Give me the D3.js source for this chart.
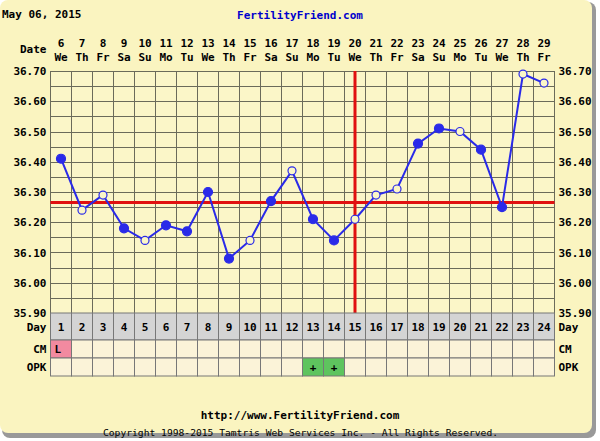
<!DOCTYPE html>
<html><head><meta charset="utf-8">
<script src="https://cdn.jsdelivr.net/npm/d3@7"></script>
<style>
body{margin:0;background:#fff;}
text{font-family:"DejaVu Sans Mono",monospace;font-weight:bold;font-size:11px;}
text.copy{font-weight:normal;font-size:8px;}
</style></head><body>
<svg id="c" width="600" height="441"></svg>
<script>
// chart data
var cycleDays = d3.range(1, 25);
var dates = [6,7,8,9,10,11,12,13,14,15,16,17,18,19,20,21,22,23,24,25,26,27,28,29];
var weekdays = ["We","Th","Fr","Sa","Su","Mo","Tu","We","Th","Fr","Sa","Su","Mo","Tu","We","Th","Fr","Sa","Su","Mo","Tu","We","Th","Fr"];
var temps = [36.41,36.24,36.29,36.18,36.14,36.19,36.17,36.30,36.08,36.14,36.27,36.37,36.21,36.14,36.21,36.29,36.31,36.46,36.51,36.50,36.44,36.25,36.69,36.66];
var openPoint = [0,1,1,0,1,0,0,0,0,1,0,1,0,0,1,1,1,0,0,1,0,0,1,1];
var cm = {1: "L"};
var opk = {13: "+", 14: "+"};
var coverline = 36.265;
var ovulationDay = 15;
var yTicks = [36.70,36.60,36.50,36.40,36.30,36.20,36.10,36.00,35.90];

var svg = d3.select("#c");
var L = 50.5, R = 554.5, T = 71, B = 313;

// background card
svg.append("rect").attr("x",2).attr("y",2).attr("width",594).attr("height",436).attr("rx",8)
  .attr("fill","#999");
svg.append("rect").attr("x",0).attr("y",0).attr("width",592).attr("height",433).attr("rx",8)
  .attr("fill","#faf4c0");

var x = d3.scaleBand().domain(cycleDays).range([L, R]);
var y = d3.scaleLinear().domain([35.90, 36.70]).range([B, T]);
var cx = function(d){ return x(d) + x.bandwidth()/2; };

svg.append("rect").attr("x",L).attr("y",T).attr("width",R-L).attr("height",B-T).attr("fill","#fbf6c8");

// grid
var g = svg.append("g").attr("stroke","#6b6b5a").attr("stroke-width",1);
d3.range(35.90, 36.701, 0.05).forEach(function(v){
  g.append("line").attr("x1",L).attr("x2",R).attr("y1",Math.round(y(v))+0.5).attr("y2",Math.round(y(v))+0.5);
});
cycleDays.concat([25]).forEach(function(d){
  var xx = d === 25 ? R : x(d);
  g.append("line").attr("x1",xx).attr("x2",xx).attr("y1",T).attr("y2",B);
});

// y labels
yTicks.forEach(function(v){
  svg.append("text").attr("x",L-4).attr("y",y(v)+4).attr("text-anchor","end").attr("font-size",12).text(v.toFixed(2));
  svg.append("text").attr("x",R+4).attr("y",y(v)+4).attr("font-size",12).text(v.toFixed(2));
});

// header
svg.append("text").attr("x",2).attr("y",18).attr("font-size",12).text("May 06, 2015");
svg.append("text").attr("x",300).attr("y",19).attr("text-anchor","middle").attr("fill","#0000cc").attr("font-size",12).text("FertilityFriend.com");
svg.append("text").attr("x",L-4).attr("y",53).attr("text-anchor","end").attr("font-size",12).text("Date");
cycleDays.forEach(function(d,i){
  svg.append("text").attr("x",cx(d)).attr("y",47).attr("text-anchor","middle").attr("font-size",12).text(dates[i]);
  svg.append("text").attr("x",cx(d)).attr("y",61).attr("text-anchor","middle").text(weekdays[i]);
});

// coverline and ovulation
svg.append("line").attr("x1",L).attr("x2",R).attr("y1",y(coverline)).attr("y2",y(coverline)).attr("stroke","#e01010").attr("stroke-width",3);
svg.append("line").attr("x1",cx(ovulationDay)).attr("x2",cx(ovulationDay)).attr("y1",T).attr("y2",B).attr("stroke","#e01010").attr("stroke-width",3);

// temperature line
svg.append("path").datum(temps)
  .attr("d", d3.line().x(function(d,i){ return cx(cycleDays[i]); }).y(function(d){ return y(d); }))
  .attr("fill","none").attr("stroke","#2a2ae8").attr("stroke-width",2);
svg.selectAll(".pt").data(temps).join("circle")
  .attr("cx",function(d,i){ return cx(cycleDays[i]); }).attr("cy",function(d){ return y(d); })
  .attr("r",function(d,i){ return openPoint[i] ? 4 : 4.5; })
  .attr("fill",function(d,i){ return openPoint[i] ? "#fbf6c8" : "#2a2ae8"; })
  .attr("stroke","#2a2ae8").attr("stroke-width",1.2);

// bottom table
var rows = [{label:"Day",y0:313,h:27},{label:"CM",y0:340,h:18},{label:"OPK",y0:358,h:18}];
rows.forEach(function(r){
  svg.append("text").attr("x",L-4).attr("y",r.y0+r.h/2+4).attr("text-anchor","end").attr("font-size",12).text(r.label);
  svg.append("text").attr("x",R+4).attr("y",r.y0+r.h/2+4).attr("font-size",12).text(r.label);
  cycleDays.forEach(function(d){
    var fill = r.label==="Day" ? "#d4d4d4" : "#fbf3d8";
    var txt = r.label==="Day" ? d : (r.label==="CM" ? cm[d] : opk[d]);
    if (r.label==="CM" && cm[d]) fill = "#f28aa0";
    if (r.label==="OPK" && opk[d]) fill = "#5ec45e";
    svg.append("rect").attr("x",x(d)).attr("y",r.y0).attr("width",x.bandwidth()).attr("height",r.h)
      .attr("fill",fill).attr("stroke","#777").attr("stroke-width",1);
    if (txt) svg.append("text").attr("x", r.label==="CM" ? x(d)+4 : cx(d)).attr("y",r.y0+r.h/2+4)
      .attr("text-anchor", r.label==="CM" ? "start" : "middle").attr("font-size",12).text(txt);
  });
});

// footer
svg.append("text").attr("x",300).attr("y",419).attr("text-anchor","middle").attr("font-size",12).text("http://www.FertilityFriend.com");
svg.append("text").attr("class","copy").attr("x",103).attr("y",436)
  .attr("textLength",395).attr("lengthAdjust","spacingAndGlyphs")
  .text("Copyright 1998-2015 Tamtris Web Services Inc. - All Rights Reserved.");
</script></body></html>
